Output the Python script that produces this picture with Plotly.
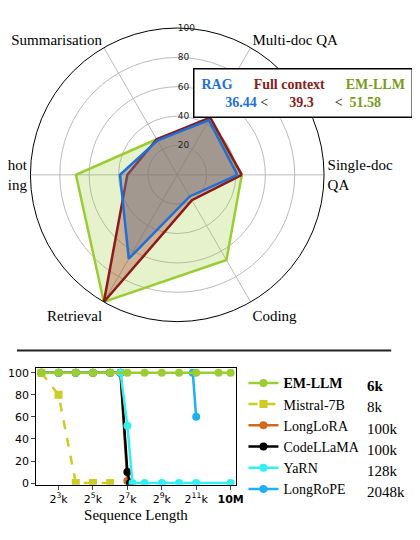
import plotly.graph_objects as go

# radar data
tasks = ["Single-doc<br>QA", "Multi-doc QA", "Summarisation", "Few-shot<br>Learning", "Retrieval", "Coding"]
em_llm = [44, 43, 28, 69, 100, 67]
full_ctx = [44, 45, 28, 34, 100, 20]
rag = [41, 43, 27, 39, 66, 17]

# passkey data (x = log2 of length in k)
tick_vals = [3, 5, 7, 9, 11, 13]
tick_text = ["2<sup>3</sup>k", "2<sup>5</sup>k", "2<sup>7</sup>k", "2<sup>9</sup>k", "2<sup>11</sup>k", "<b>10M</b>"]
em_x = [2, 3, 4, 5, 6, 7, 8, 9, 10, 11, 12.3, 13]
em_y = [100, 100, 100, 100, 100, 100, 100, 100, 100, 100, 100, 100]
mis_x = [2, 3, 4, 5, 6]
mis_y = [100, 80, 0, 0, 0]
lora_x = [2, 3, 4, 5, 6, 6.6, 7]
lora_y = [100, 100, 100, 100, 100, 100, 2]
code_x = [2, 3, 4, 5, 6, 6.6, 7, 7.15]
code_y = [100, 100, 100, 100, 100, 100, 10, 0]
yarn_x = [2, 3, 4, 5, 6, 6.6, 7, 7.3, 8, 9, 10, 11, 13]
yarn_y = [100, 100, 100, 100, 100, 100, 52, 0, 0, 0, 0, 0, 0]
rope_x = [10.8, 11]
rope_y = [100, 60]

serif = "Liberation Serif"
fig = go.Figure()

def close(v):
    return v + v[:1]

for name, vals, line, fill in [
    ("EM-LLM", em_llm, "#9ACD32", "rgba(154,205,50,0.25)"),
    ("Full context", full_ctx, "#8B1A1A", "rgba(160,60,40,0.35)"),
    ("RAG", rag, "#1f6fd6", "rgba(110,120,140,0.45)"),
]:
    fig.add_trace(go.Scatterpolar(r=close(vals), theta=close(tasks), mode="lines", fill="toself",
                                  fillcolor=fill, line=dict(color=line, width=2.5), showlegend=False))

series = [
    ("<b>EM-LLM</b>", em_x, em_y, "#9ACD32", "circle", "solid"),
    ("Mistral-7B", mis_x, mis_y, "#CCCC22", "square", "dash"),
    ("LongLoRA", lora_x, lora_y, "#D2691E", "circle", "solid"),
    ("CodeLLaMA", code_x, code_y, "black", "circle", "solid"),
    ("YaRN", yarn_x, yarn_y, "#33F0F0", "circle", "solid"),
    ("LongRoPE", rope_x, rope_y, "#1EB0F0", "circle", "solid"),
]
draw_order = [2, 3, 5, 4, 1, 0]
for i in draw_order:
    n, x, y, c, s, d = series[i]
    fig.add_trace(go.Scatter(x=x, y=y, name=n, mode="lines+markers", legendrank=i,
                             line=dict(color=c, width=2.5, dash=d),
                             marker=dict(color=c, symbol=s, size=8)))

ctx_len = ["<b>6k</b>", "8k", "100k", "100k", "128k", "2048k"]
for i, t in enumerate(ctx_len):
    fig.add_annotation(x=363 / 420, y=1 - (381 + i * 21.5) / 540, xref="paper", yref="paper",
                       text=t, showarrow=False, xanchor="left", yanchor="middle",
                       font=dict(family=serif, size=15, color="black"))

fig.add_annotation(x=298 / 420, y=1 - 84 / 540, xref="paper", yref="paper", showarrow=False,
                   xanchor="center", yanchor="middle",
                   text="<b><span style='color:#1f6fd6'>RAG</span>      <span style='color:#8B1A1A'>Full context</span>      <span style='color:#7a9a1a'>EM-LLM</span></b><br>"
                        "<b><span style='color:#1f6fd6'>36.44</span></b> <  <b><span style='color:#8B1A1A'>    39.3    </span></b>  <  <b><span style='color:#7a9a1a'>51.58</span></b>",
                   font=dict(family=serif, size=14, color="black"), bgcolor="white",
                   bordercolor="black", borderwidth=1.5, borderpad=7, align="center")

fig.add_shape(type="line", xref="paper", yref="paper", x0=0, x1=390 / 420,
              y0=1 - 345 / 540, y1=1 - 345 / 540, line=dict(color="#222", width=2))

fig.update_layout(
    width=420, height=540, margin=dict(l=0, r=0, t=0, b=0),
    paper_bgcolor="white", plot_bgcolor="white",
    polar=dict(
        domain=dict(x=[14 / 420, 320 / 420], y=[1 - 320 / 540, 1 - 14 / 540]),
        bgcolor="white",
        angularaxis=dict(rotation=0, direction="counterclockwise", linecolor="black", linewidth=1,
                         gridcolor="#bbb", showticklabels=True, ticks="",
                         tickfont=dict(family=serif, size=15, color="black")),
        radialaxis=dict(range=[0, 100], angle=90, tickangle=90, tickvals=[20, 40, 60, 80, 100],
                        gridcolor="#bbb", showline=False, ticks="",
                        tickfont=dict(family="DejaVu Sans", size=9, color="#222")),
    ),
    xaxis=dict(domain=[20 / 420, 228 / 420], range=[1.7, 13.3], tickvals=tick_vals, ticktext=tick_text,
               showgrid=False, zeroline=False, mirror=True, showline=True, linecolor="black",
               ticks="outside", ticklen=4, tickfont=dict(family="DejaVu Sans", size=11, color="black"),
               title=dict(text="Sequence Length", font=dict(family=serif, size=15, color="black"), standoff=4)),
    yaxis=dict(domain=[1 - 481 / 540, 1 - 363 / 540], range=[-1.5, 104], tickvals=[0, 20, 40, 60, 80, 100],
               showgrid=False, zeroline=False, mirror=True, showline=True, linecolor="black",
               ticks="outside", ticklen=4, tickfont=dict(family="DejaVu Sans", size=11, color="black")),
    legend=dict(x=236 / 420, y=1 - 362 / 540, xanchor="left", yanchor="top", tracegroupgap=0,
                font=dict(family=serif, size=14, color="black"), itemwidth=30, bgcolor="rgba(0,0,0,0)"),
)

fig.write_html("out.html")
